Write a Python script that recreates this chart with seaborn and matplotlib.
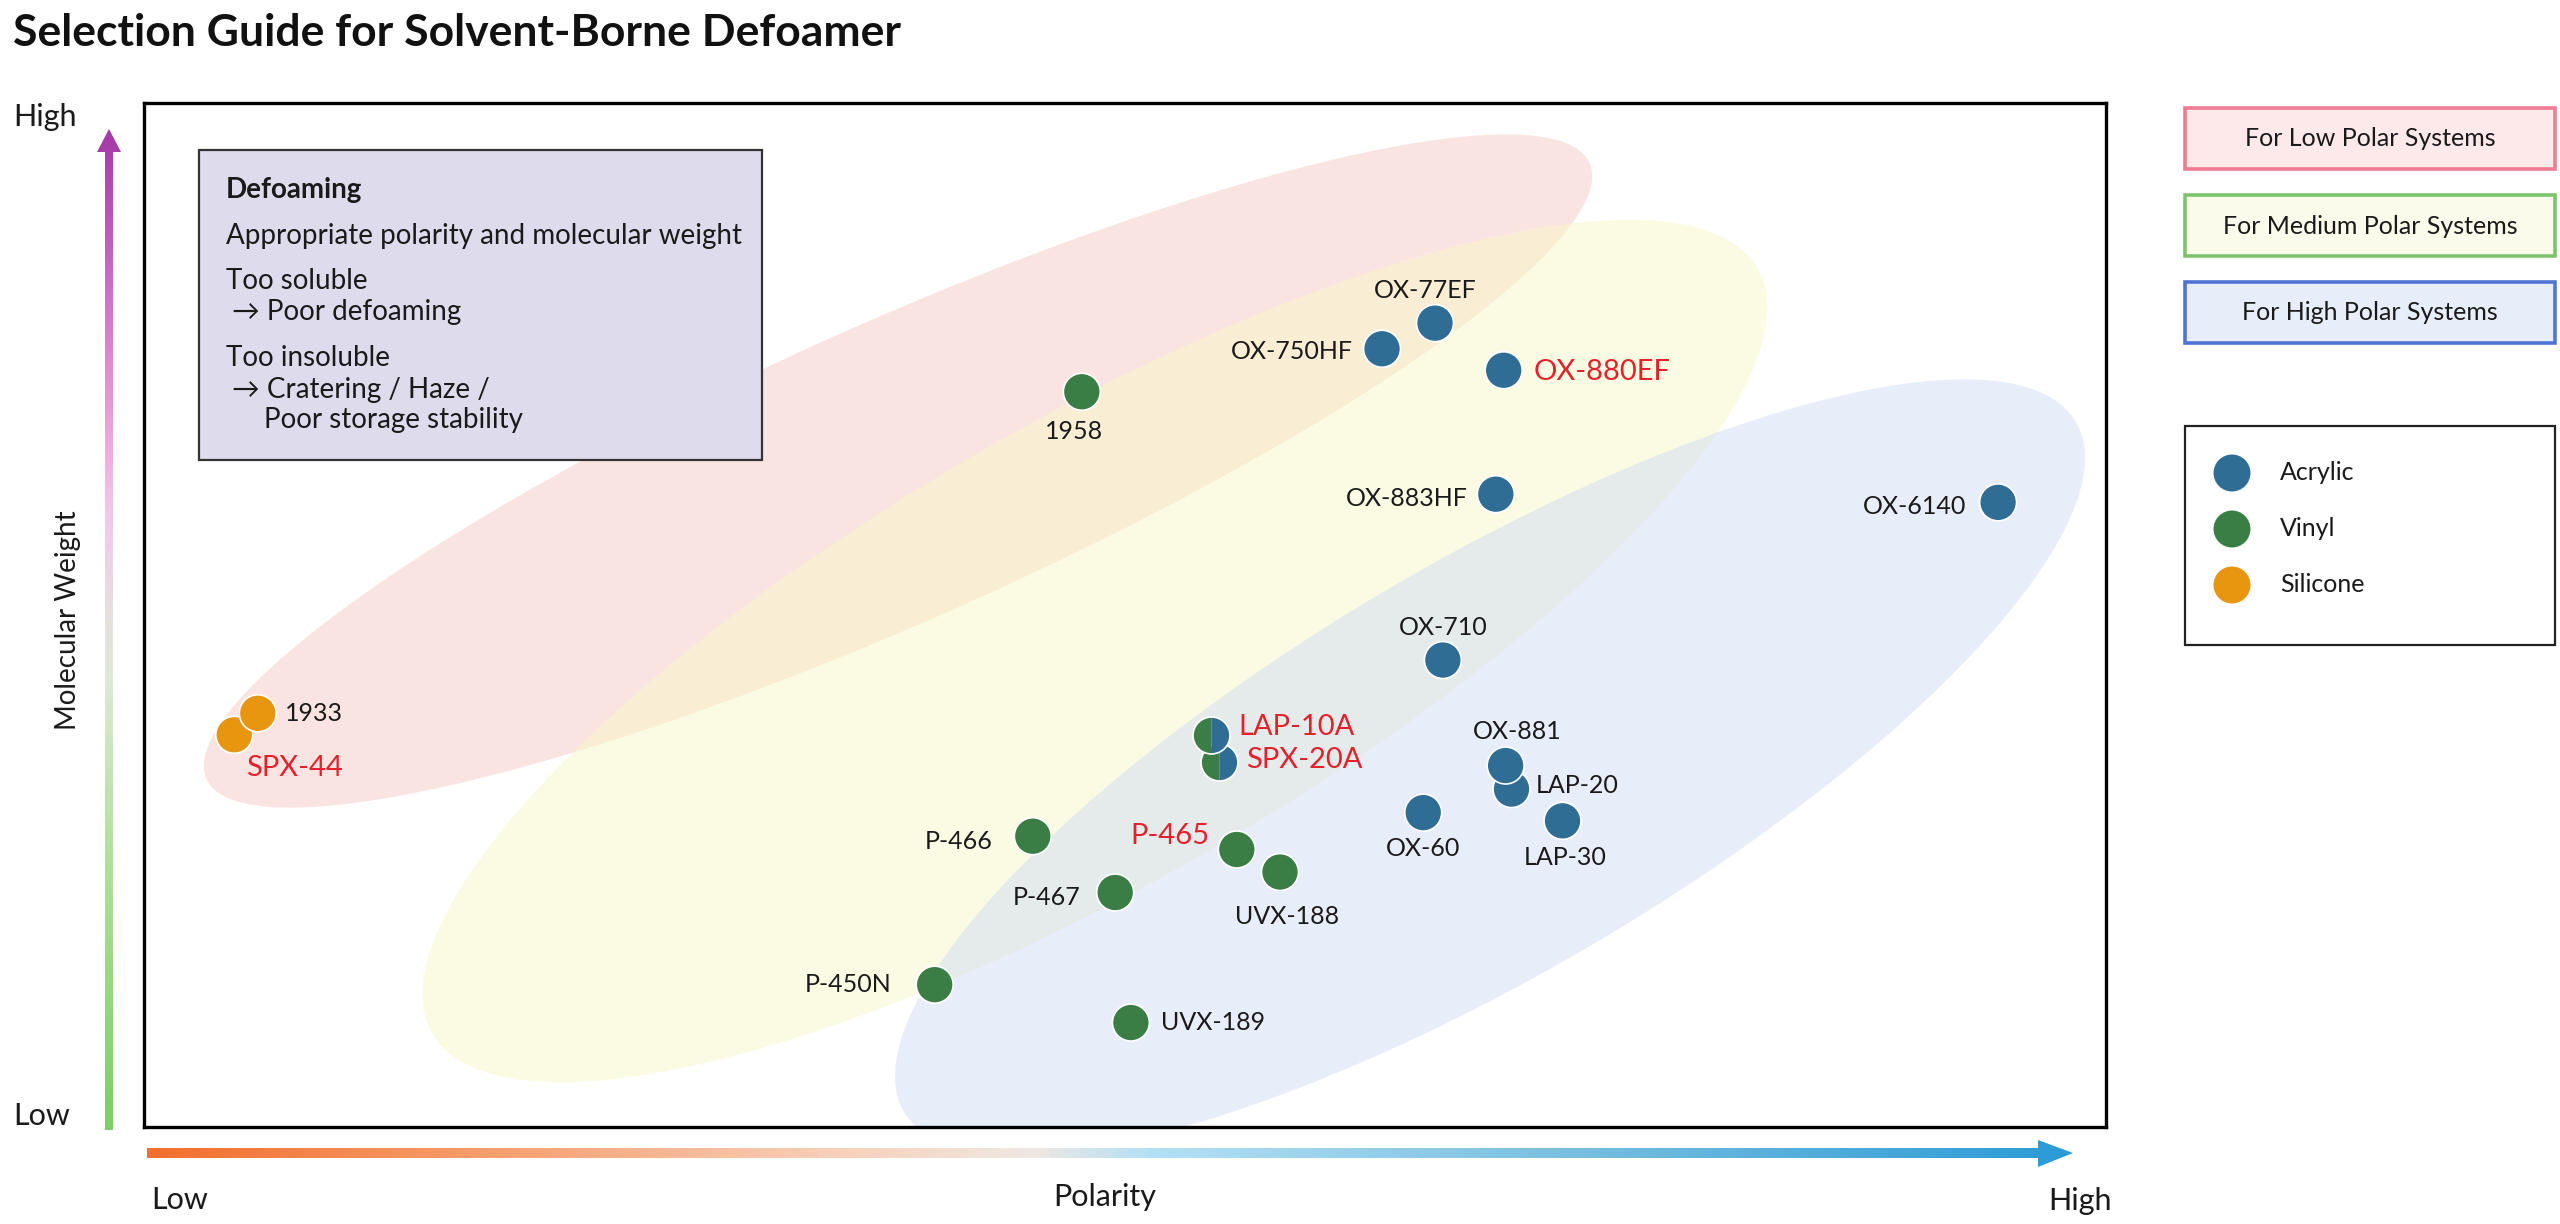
import numpy as np
import pandas as pd
import matplotlib
matplotlib.use("Agg")
import matplotlib.pyplot as plt
import seaborn as sns
from matplotlib.patches import Ellipse, Rectangle, Polygon
from matplotlib.colors import LinearSegmentedColormap
from matplotlib.transforms import Affine2D

# ---- data (polarity / molecular weight on a 0-100 scale) ----
names = ["OX-77EF", "OX-750HF", "OX-880EF", "OX-883HF", "OX-6140", "OX-710",
         "OX-60", "LAP-20", "OX-881", "LAP-30",
         "1958", "P-466", "P-465", "UVX-188", "P-467", "P-450N", "UVX-189",
         "SPX-44", "1933"]
families = ["Acrylic"] * 10 + ["Vinyl"] * 7 + ["Silicone"] * 2
polarity = [65.8, 63.1, 69.3, 68.9, 94.5, 66.2, 65.2, 69.7, 69.4, 72.3,
            47.8, 45.3, 55.7, 57.9, 49.5, 40.3, 50.3,
            4.6, 5.8]
mol_weight = [78.5, 76.0, 73.9, 61.8, 61.0, 45.6, 30.7, 33.0, 35.3, 29.9,
              71.8, 28.4, 27.1, 24.9, 22.9, 13.9, 10.2,
              38.3, 40.4]

# products that are both vinyl and acrylic (drawn as half/half circles)
mixed_names = ["SPX-20A", "LAP-10A"]
mixed_polarity = [54.8, 54.4]
mixed_mw = [35.6, 38.3]

red_names = ["OX-880EF", "LAP-10A", "SPX-20A", "P-465", "SPX-44"]

region_names = ["For Low Polar Systems", "For Medium Polar Systems", "For High Polar Systems"]
type_names = ["Acrylic", "Vinyl", "Silicone"]

palette = {"Acrylic": "#2f6d95", "Vinyl": "#3a7d45", "Silicone": "#e8950f"}
red = "#e3212b"
ink = "#1a1a1a"

# label placement: offset in pixels from the marker, and alignment
label_pos = {
    "OX-77EF": (-10, 33, "center"), "OX-750HF": (-29, -3, "right"),
    "OX-880EF": (30, -2, "left"), "OX-883HF": (-28, -4, "right"),
    "OX-6140": (-32, -4, "right"), "OX-710": (0, 33, "center"),
    "OX-60": (0, -36, "center"), "LAP-20": (24, 4, "left"),
    "OX-881": (12, 34, "center"), "LAP-30": (3, -37, "center"),
    "1958": (-8, -40, "center"), "P-466": (-40, -5, "right"),
    "P-465": (-27, 13, "right"), "UVX-188": (7, -44, "center"),
    "P-467": (-35, -5, "right"), "P-450N": (-43, 0, "right"),
    "UVX-189": (30, 0, "left"), "SPX-44": (60, -33, "center"),
    "1933": (27, 0, "left"), "SPX-20A": (27, 2, "left"),
    "LAP-10A": (27, 8, "left"),
}

df = pd.DataFrame({"name": names, "type": families,
                   "polarity": polarity, "mw": mol_weight})

sns.set_style("white")
plt.rcParams["font.family"] = ["Lato", "DejaVu Sans"]

W, H = 2560, 1224
fig = plt.figure(figsize=(W / 100, H / 100), dpi=100)

# main plotting box (pixel box 144..2106 x 103..1127)
bx0, bx1, by0, by1 = 144, 2106, 103, 1127
ax = fig.add_axes([bx0 / W, 1 - by1 / H, (bx1 - bx0) / W, (by1 - by0) / H])
ax.set_xlim(0, 100)
ax.set_ylim(0, 100)
ax.set_xticks([])
ax.set_yticks([])
for s in ax.spines.values():
    s.set_color("black")
    s.set_linewidth(2.4)

# shaded system regions, defined in pixel units inside the box
px = Affine2D().scale(1 / (bx1 - bx0), 1 / (by1 - by0)) + ax.transAxes
regions = [((754, 656), 1514, 298, 24, "#f6c5c0"),
           ((951, 476), 1530, 460, 30, "#f8f8c5"),
           ((1346, 360), 1360, 410, 30.5, "#ccd9f4")]
for (c, w, h, ang, col) in regions:
    ax.add_patch(Ellipse(c, w, h, angle=ang, transform=px, facecolor=col,
                         edgecolor="none", alpha=0.45, zorder=1))

sns.scatterplot(data=df, x="polarity", y="mw", hue="type", palette=palette,
                s=708, edgecolor="white", linewidth=1.2, legend=False,
                ax=ax, zorder=3)
ax.set_xlabel("")
ax.set_ylabel("")

for x, y in zip(mixed_polarity, mixed_mw):
    ax.plot([x], [y], marker="o", markersize=26.6, fillstyle="left",
            markerfacecolor=palette["Vinyl"], markerfacecoloralt=palette["Acrylic"],
            markeredgewidth=0, linestyle="none", zorder=4)
    ax.plot([x], [y], marker="o", markersize=26.6, markerfacecolor="none",
            markeredgecolor="white", markeredgewidth=1.2, linestyle="none", zorder=4)

for n, x, y in list(zip(names, polarity, mol_weight)) + list(zip(mixed_names, mixed_polarity, mixed_mw)):
    dx, dy, ha = label_pos[n]
    is_red = n in red_names
    ax.annotate(n, (x, y), xytext=(dx, dy), textcoords="offset pixels",
                ha=ha, va="center", fontsize=21 if is_red else 18,
                color=red if is_red else ink, zorder=6)

# ---- overlay in figure pixel coordinates for the decorations ----
ov = fig.add_axes([0, 0, 1, 1], zorder=5)
ov.patch.set_visible(False)
ov.axis("off")


def reset():
    ov.set_xlim(0, W)
    ov.set_ylim(H, 0)


reset()

ov.text(13, 33, "Selection Guide for Solvent-Borne Defoamer", fontsize=32,
        fontweight="bold", color="#111111", va="center", ha="left")

# info box
ov.add_patch(Rectangle((199, 150), 563, 310, facecolor="#dedcec",
                       edgecolor="#333333", linewidth=1.6))
info = [(226, 190, "Defoaming", "bold"),
        (226, 236, "Appropriate polarity and molecular weight", "normal"),
        (226, 281, "Too soluble", "normal"),
        (232, 312, "\u2192 Poor defoaming", "normal"),
        (226, 358, "Too insoluble", "normal"),
        (232, 390, "\u2192 Cratering / Haze /", "normal"),
        (264, 420, "Poor storage stability", "normal")]
for x, y, t, wgt in info:
    ov.text(x, y, t, fontsize=20, fontweight=wgt, color=ink, va="center", ha="left")

# region legend boxes
box_styles = [("#f07b92", "#fde9ea"), ("#7cc46c", "#fafbea"), ("#4f74d6", "#e7eefa")]
for i, (lab, (ec, fc)) in enumerate(zip(region_names, box_styles)):
    y0 = 108 + i * 87
    ov.add_patch(Rectangle((2185, y0), 370, 61, facecolor=fc, edgecolor=ec, linewidth=2.6))
    ov.text(2370, y0 + 31, lab, fontsize=18, color=ink, ha="center", va="center")

# marker legend
ov.add_patch(Rectangle((2185, 426), 370, 219, facecolor="white",
                       edgecolor="#222222", linewidth=1.6))
for i, t in enumerate(type_names):
    yy = 473 + i * 56
    ov.scatter([2232], [yy], s=708, color=palette[t], edgecolor="none")
    ov.text(2280, yy, t, fontsize=18, color=ink, va="center", ha="left")
reset()

# gradient arrows
ycmap = LinearSegmentedColormap.from_list("mw", [
    (0, "#7fcd68"), (0.3, "#b6e2a4"), (0.45, "#dde9d5"), (0.52, "#e6dfe0"),
    (0.62, "#f3c6ea"), (0.78, "#dc86cf"), (1, "#a43aa6")])
xcmap = LinearSegmentedColormap.from_list("pol", [
    (0, "#f26f2e"), (0.18, "#f59f6f"), (0.36, "#f8d0ba"), (0.46, "#efe8e2"),
    (0.52, "#b4e0f5"), (0.75, "#76bddf"), (1, "#2a9bd6")])

ypoly = Polygon([(105, 1130), (113, 1130), (113, 152), (121, 152), (109, 129),
                 (97, 152), (105, 152)], closed=True, facecolor="none", edgecolor="none")
ov.add_patch(ypoly)
im = ov.imshow(np.linspace(0, 1, 256).reshape(-1, 1), cmap=ycmap, origin="lower",
               extent=(97, 121, 1130, 129), aspect="auto", interpolation="bilinear")
im.set_clip_path(ypoly)

xpoly = Polygon([(147, 1148), (2038, 1148), (2038, 1140), (2073, 1153), (2038, 1167),
                 (2038, 1158), (147, 1158)], closed=True, facecolor="none", edgecolor="none")
ov.add_patch(xpoly)
im2 = ov.imshow(np.linspace(0, 1, 256).reshape(1, -1), cmap=xcmap, origin="lower",
                extent=(147, 2073, 1167, 1140), aspect="auto", interpolation="bilinear")
im2.set_clip_path(xpoly)
reset()

# axis words
ov.text(13, 117, "High", fontsize=22, color=ink, va="center", ha="left")
ov.text(13, 1116, "Low", fontsize=22, color=ink, va="center", ha="left")
ov.text(68, 620, "Molecular Weight", fontsize=20, color=ink, va="center",
        ha="center", rotation=90)
ov.text(180, 1200, "Low", fontsize=22, color=ink, va="center", ha="center")
ov.text(1105, 1197, "Polarity", fontsize=22, color=ink, va="center", ha="center")
ov.text(2080, 1201, "High", fontsize=22, color=ink, va="center", ha="center")

fig.savefig("out.png", dpi=100)
